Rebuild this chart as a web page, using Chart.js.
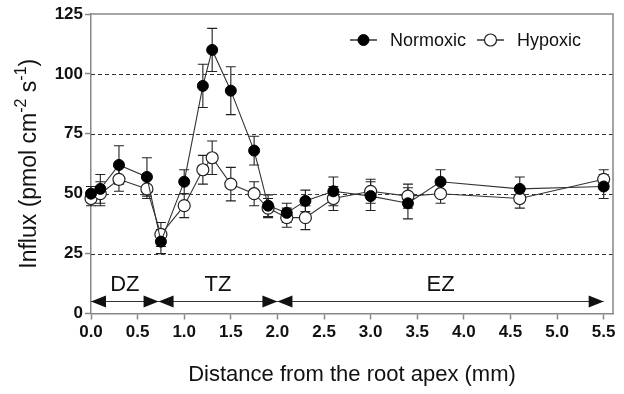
<!DOCTYPE html>
<html>
<head>
<meta charset="utf-8">
<script src="https://cdn.jsdelivr.net/npm/chart.js@4.4.0/dist/chart.umd.min.js"></script>
<style>
  html, body { margin: 0; padding: 0; background: #fff; }
  canvas { display: block; }
</style>
</head>
<body>
<canvas id="chart" width="624" height="394"></canvas>
<script>
// data
const distances = [0.0, 0.1, 0.3, 0.6, 0.75, 1.0, 1.2, 1.3, 1.5, 1.75, 1.9, 2.1, 2.3, 2.6, 3.0, 3.4, 3.75, 4.6, 5.5];
const normoxic = [50, 52, 62, 57, 30, 55, 95, 110, 93, 68, 45, 42, 47, 51, 49, 46, 55, 52, 53];
const normoxicErr = [3, 6, 8, 8, 5, 5, 9, 9, 10, 6, 4.5, 4, 4.5, 6, 6, 6.5, 5, 5, 5];
const hypoxic = [48, 50, 56, 52, 33, 45, 60, 65, 54, 50, 44, 40, 40, 48, 51, 49, 50, 48, 56];
const hypoxicErr = [3, 5, 5, 4, 5, 5, 6, 7, 7, 5, 4, 4, 5, 5, 5, 5, 4, 4, 4];
const gridValues = [25, 50, 75, 100];

// root zones
const zoneLabels = ["DZ", "TZ", "EZ"];
const zoneBounds = [0, 0.725, 2.0, 5.5];
const zoneArrowLevel = 5;
const zoneLabelLevel = 12;

const FONT = "'Liberation Sans', Arial, Helvetica, sans-serif";

const toPoints = (ys) => distances.map((x, i) => ({ x, y: ys[i] }));

// error bars, drawn under the markers
const errorBars = {
    id: "errorBars",
    beforeDatasetsDraw(chart) {
        const { ctx, scales: { x, y } } = chart;
        ctx.save();
        ctx.strokeStyle = "#222";
        ctx.lineWidth = 1.1;
        chart.data.datasets.forEach(ds => {
            ds.data.forEach((p, j) => {
                const e = ds.errors[j];
                const px = x.getPixelForValue(p.x);
                const top = y.getPixelForValue(p.y + e);
                const bot = y.getPixelForValue(p.y - e);
                ctx.beginPath();
                ctx.moveTo(px, top); ctx.lineTo(px, bot);
                ctx.moveTo(px - 5, top); ctx.lineTo(px + 5, top);
                ctx.moveTo(px - 5, bot); ctx.lineTo(px + 5, bot);
                ctx.stroke();
            });
        });
        ctx.restore();
    },
};

// dashed grid, frame, zone arrows
const decorations = {
    id: "decorations",
    beforeDatasetsDraw(chart) {
        const { ctx, chartArea: a, scales: { x, y } } = chart;
        ctx.save();
        ctx.strokeStyle = "#333";
        ctx.lineWidth = 1;
        ctx.setLineDash([4, 3]);
        gridValues.forEach(v => {
            const py = Math.round(y.getPixelForValue(v)) + 0.5;
            ctx.beginPath(); ctx.moveTo(a.left, py); ctx.lineTo(a.right, py); ctx.stroke();
        });
        ctx.setLineDash([]);
        ctx.strokeStyle = "#888";
        ctx.lineWidth = 1.5;
        ctx.beginPath();
        ctx.moveTo(a.left, a.top); ctx.lineTo(a.right, a.top); ctx.lineTo(a.right, a.bottom);
        ctx.stroke();

        // zones
        const ay = y.getPixelForValue(zoneArrowLevel);
        const ly = y.getPixelForValue(zoneLabelLevel);
        ctx.fillStyle = "#111";
        ctx.strokeStyle = "#333";
        ctx.lineWidth = 1.2;
        zoneLabels.forEach((lab, i) => {
            const x1 = x.getPixelForValue(zoneBounds[i]);
            const x2 = x.getPixelForValue(zoneBounds[i + 1]);
            ctx.beginPath(); ctx.moveTo(x1, ay); ctx.lineTo(x2, ay); ctx.stroke();
            ctx.beginPath();
            ctx.moveTo(x1, ay); ctx.lineTo(x1 + 15, ay - 6); ctx.lineTo(x1 + 15, ay + 6); ctx.closePath();
            ctx.moveTo(x2, ay); ctx.lineTo(x2 - 15, ay - 6); ctx.lineTo(x2 - 15, ay + 6); ctx.closePath();
            ctx.fill();
            ctx.font = `22px ${FONT}`;
            ctx.textAlign = "center";
            ctx.textBaseline = "middle";
            ctx.fillText(lab, (x1 + x2) / 2, ly);
        });
        ctx.restore();
    },
    afterDraw(chart) {
        const { ctx, chartArea: a } = chart;
        // y title with superscripts
        const parts = [["Influx (pmol cm", false], ["-2", true], [" s", false], ["-1", true], [")", false]];
        ctx.save();
        ctx.translate(30, (a.top + a.bottom) / 2);
        ctx.rotate(-Math.PI / 2);
        ctx.fillStyle = "#111";
        ctx.textBaseline = "middle";
        ctx.textAlign = "left";
        const fontOf = sup => (sup ? `16px ${FONT}` : `23px ${FONT}`);
        let w = 0;
        parts.forEach(([t, sup]) => { ctx.font = fontOf(sup); w += ctx.measureText(t).width; });
        let cx = -w / 2;
        parts.forEach(([t, sup]) => {
            ctx.font = fontOf(sup);
            ctx.fillText(t, cx, sup ? -8 : 0);
            cx += ctx.measureText(t).width;
        });
        ctx.restore();

        // legend: line with marker, then label
        const legendX = [350, 477];
        ctx.save();
        chart.data.datasets.forEach((ds, i) => {
            const lx = legendX[i], ly = 40;
            ctx.strokeStyle = ds.borderColor;
            ctx.lineWidth = 1.5;
            ctx.beginPath(); ctx.moveTo(lx, ly); ctx.lineTo(lx + 27, ly); ctx.stroke();
            ctx.beginPath();
            ctx.arc(lx + 13.5, ly, ds.pointRadius, 0, Math.PI * 2);
            ctx.fillStyle = ds.pointBackgroundColor;
            ctx.fill();
            ctx.lineWidth = ds.pointBorderWidth;
            ctx.strokeStyle = ds.pointBorderColor;
            ctx.stroke();
            ctx.fillStyle = "#111";
            ctx.font = `18px ${FONT}`;
            ctx.textBaseline = "middle";
            ctx.fillText(ds.label, lx + 40, ly + 1);
        });
        ctx.restore();
    },
};

new Chart(document.getElementById("chart"), {
    type: "line",
    data: {
        datasets: [
            {
                label: "Normoxic",
                data: toPoints(normoxic),
                errors: normoxicErr,
                borderColor: "#333",
                borderWidth: 1.1,
                pointRadius: 5.5,
                pointBackgroundColor: "#000",
                pointBorderColor: "#000",
                pointBorderWidth: 1,
                clip: false,
            },
            {
                label: "Hypoxic",
                data: toPoints(hypoxic),
                errors: hypoxicErr,
                borderColor: "#333",
                borderWidth: 1.1,
                pointRadius: 6,
                pointBackgroundColor: "#fff",
                pointBorderColor: "#222",
                pointBorderWidth: 1.2,
                clip: false,
            },
        ],
    },
    options: {
        responsive: false,
        animation: false,
        devicePixelRatio: 1,
        layout: { padding: { top: 14, right: 11, left: 0, bottom: 0 } },
        plugins: {
            legend: { display: false },
            tooltip: { enabled: false },
        },
        scales: {
            x: {
                type: "linear",
                min: 0,
                max: 5.6,
                afterFit: s => { s.height = 80.5; },
                ticks: {
                    stepSize: 0.5,
                    includeBounds: false,
                    padding: 3,
                    color: "#111",
                    font: { family: FONT, size: 17, weight: "bold" },
                    callback: v => Number(v).toFixed(1),
                },
                grid: { drawOnChartArea: false, tickLength: 6, tickColor: "#888", tickWidth: 1.5 },
                border: { color: "#888", width: 1.5 },
                title: {
                    display: true,
                    text: "Distance from the root apex (mm)",
                    color: "#111",
                    font: { family: FONT, size: 22 },
                    padding: { top: 0, bottom: 6 },
                },
            },
            y: {
                min: 0,
                max: 125,
                afterFit: s => { s.width = 91; },
                ticks: {
                    stepSize: 25,
                    padding: 2,
                    color: "#111",
                    font: { family: FONT, size: 17, weight: "bold" },
                },
                grid: { drawOnChartArea: false, tickLength: 6, tickColor: "#888", tickWidth: 1.5 },
                border: { color: "#888", width: 1.5 },
            },
        },
    },
    plugins: [errorBars, decorations],
});
</script>
</body>
</html>
